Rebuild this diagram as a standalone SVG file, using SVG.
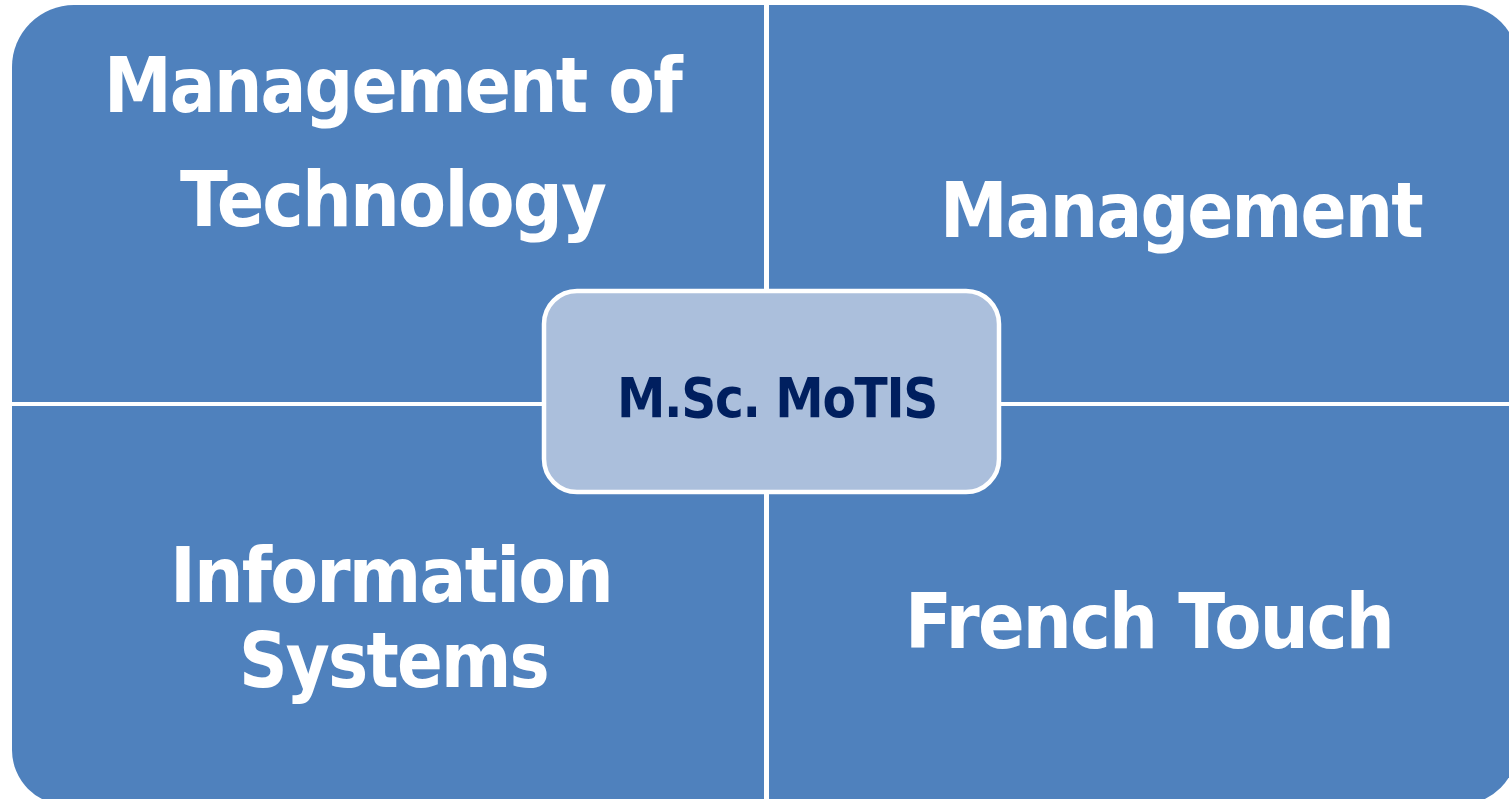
<svg xmlns="http://www.w3.org/2000/svg" width="1509" height="799" viewBox="0 0 1509 799">
<style>
.q{fill:#4F81BD}
.t{font-family:"DejaVu Sans","Verdana",sans-serif;font-weight:bold;font-size:76px;letter-spacing:-2px;fill:#FFFFFF}
.c{font-family:"DejaVu Sans","Verdana",sans-serif;font-weight:bold;font-size:55px;letter-spacing:-1.5px;fill:#001F5F}
</style>
<rect width="1509" height="799" fill="#FFFFFF"/>
<g id="quad-tl">
<path class="q" d="M12,402 L12,67 A62,62 0 0 1 74,5 L764,5 L764,402 Z"/>
<text class="t" x="104" y="112" textLength="577" lengthAdjust="spacingAndGlyphs">Management of</text>
<text class="t" x="180" y="226" textLength="425" lengthAdjust="spacingAndGlyphs">Technology</text>
</g>
<g id="quad-tr">
<path class="q" d="M769,5 L1460,5 A58,58 0 0 1 1518,63 L1518,402 L769,402 Z"/>
<text class="t" x="940" y="237" textLength="482" lengthAdjust="spacingAndGlyphs">Management</text>
</g>
<g id="quad-bl">
<path class="q" d="M12,406 L764,406 L764,805 L67,805 A55,55 0 0 1 12,750 Z"/>
<text class="t" x="170" y="602" textLength="442" lengthAdjust="spacingAndGlyphs">Information</text>
<text class="t" x="239" y="687" textLength="309" lengthAdjust="spacingAndGlyphs">Systems</text>
</g>
<g id="quad-br">
<path class="q" d="M769,406 L1518,406 L1518,746 A59,59 0 0 1 1459,805 L769,805 Z"/>
<text class="t" x="905" y="648" textLength="488" lengthAdjust="spacingAndGlyphs">French Touch</text>
</g>
<g id="center">
<rect x="544" y="291" width="455" height="201" rx="33" ry="33" fill="#ABBFDC" stroke="#FFFFFF" stroke-width="4.5"/>
<text class="c" x="617" y="417" textLength="320" lengthAdjust="spacingAndGlyphs">M.Sc. MoTIS</text>
</g>
<g id="connectors"></g>
</svg>
